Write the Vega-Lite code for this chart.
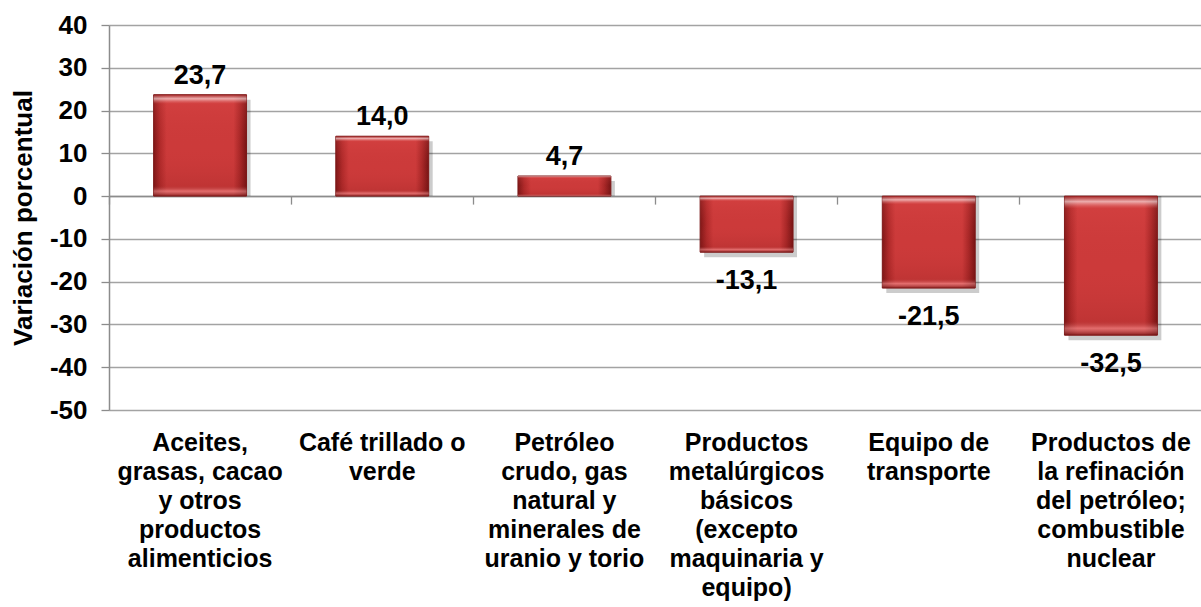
{
  "$schema": "https://vega.github.io/schema/vega-lite/v6.json",
  "autosize": "none",
  "padding": {"left": 109, "top": 25, "right": 0, "bottom": 197},
  "width": 1093,
  "height": 385,
  "background": "white",
  "config": {
    "view": {"stroke": null},
    "font": "Liberation Sans",
    "axis": {"labelFont": "Liberation Sans", "titleFont": "Liberation Sans"}
  },
  "data": {
    "values": [
      {"cat": "Aceites,|grasas, cacao|y otros|productos|alimenticios", "value": 23.7, "label": "23,7"},
      {"cat": "Café trillado o|verde", "value": 14.0, "label": "14,0"},
      {"cat": "Petróleo|crudo, gas|natural y|minerales de|uranio y torio", "value": 4.7, "label": "4,7"},
      {"cat": "Productos|metalúrgicos|básicos|(excepto|maquinaria y|equipo)", "value": -13.1, "label": "-13,1"},
      {"cat": "Equipo de|transporte", "value": -21.5, "label": "-21,5"},
      {"cat": "Productos de|la refinación|del petróleo;|combustible|nuclear", "value": -32.5, "label": "-32,5"}
    ]
  },
  "encoding": {
    "y": {
      "field": "value",
      "type": "quantitative",
      "scale": {"domain": [-50, 40], "nice": false, "zero": false},
      "axis": {
        "values": [-50, -40, -30, -20, -10, 0, 10, 20, 30, 40],
        "labelExpr": "toString(datum.value)",
        "title": "Variación porcentual",
        "titleFontSize": 26,
        "titleFontWeight": "bold",
        "titleColor": "black",
        "titlePadding": 13,
        "labelFontSize": 26,
        "labelFontWeight": "bold",
        "labelColor": "black",
        "labelPadding": 14,
        "grid": true,
        "gridColor": "#a3a3a3",
        "gridWidth": 1.3,
        "domainColor": "#8c8c8c",
        "domainWidth": 1.5,
        "tickColor": "#8c8c8c",
        "tickWidth": 1.3,
        "tickSize": 8
      }
    }
  },
  "layer": [
    {
      "mark": {"type": "bar", "width": {"band": 0.51}, "color": "#000000", "opacity": 0.2, "xOffset": 4, "yOffset": 5},
      "encoding": {
        "x": {
          "field": "cat",
          "type": "nominal",
          "sort": null,
          "scale": {"paddingInner": 0, "paddingOuter": 0},
          "axis": {
            "title": null,
            "orient": "bottom",
            "labelExpr": "split(datum.label, '|')",
            "labelAngle": 0,
            "labelFontSize": 25,
            "labelFontWeight": "bold",
            "labelColor": "black",
            "labelLineHeight": 29,
            "labelPadding": 20,
            "labelBaseline": "top",
            "labelOverlap": false,
            "ticks": false,
            "domain": false,
            "grid": false
          }
        },
        "y2": {"datum": 0}
      }
    },
    {
      "mark": {
        "type": "bar",
        "width": {"band": 0.51},
        "stroke": "#7a1616",
        "strokeWidth": 1,
        "color": {
          "gradient": "linear", "x1": 0, "y1": 0, "x2": 1, "y2": 0,
          "stops": [
            {"offset": 0, "color": "#7f1717"},
            {"offset": 0.07, "color": "#b02a2a"},
            {"offset": 0.14, "color": "#cc3a3a"},
            {"offset": 0.86, "color": "#cc3a3a"},
            {"offset": 0.93, "color": "#a82727"},
            {"offset": 1, "color": "#761414"}
          ]
        }
      },
      "encoding": {
        "x": {"field": "cat", "type": "nominal", "sort": null, "axis": null},
        "y2": {"datum": 0}
      }
    },
    {
      "mark": {
        "type": "bar",
        "width": {"band": 0.51},
        "color": {
          "gradient": "linear", "x1": 0, "y1": 0, "x2": 0, "y2": 1,
          "stops": [
            {"offset": 0, "color": "rgba(150,25,25,0.7)"},
            {"offset": 0.04, "color": "rgba(255,235,235,0.65)"},
            {"offset": 0.09, "color": "rgba(230,80,80,0.2)"},
            {"offset": 0.5, "color": "rgba(200,60,60,0)"},
            {"offset": 0.9, "color": "rgba(120,20,20,0.15)"},
            {"offset": 0.95, "color": "rgba(255,170,170,0.45)"},
            {"offset": 1, "color": "rgba(110,15,15,0.7)"}
          ]
        }
      },
      "encoding": {
        "x": {"field": "cat", "type": "nominal", "sort": null, "axis": null},
        "y2": {"datum": 0}
      }
    },
    {
      "transform": [{"filter": "datum.value >= 0"}],
      "mark": {"type": "text", "baseline": "bottom", "dy": -5, "fontSize": 27, "fontWeight": "bold", "color": "black", "font": "Liberation Sans"},
      "encoding": {
        "x": {
          "field": "cat",
          "type": "nominal",
          "sort": null,
          "axis": {
            "orient": "bottom",
            "offset": -213.9,
            "title": null,
            "labels": false,
            "grid": false,
            "domain": true,
            "domainColor": "#8c8c8c",
            "domainWidth": 1.5,
            "ticks": true,
            "bandPosition": 0,
            "tickColor": "#8c8c8c",
            "tickWidth": 1.3,
            "tickSize": 8
          }
        },
        "text": {"field": "label"}
      }
    },
    {
      "transform": [{"filter": "datum.value < 0"}],
      "mark": {"type": "text", "baseline": "top", "dy": 16, "fontSize": 27, "fontWeight": "bold", "color": "black", "font": "Liberation Sans"},
      "encoding": {
        "x": {"field": "cat", "type": "nominal", "sort": null, "axis": null},
        "text": {"field": "label"}
      }
    }
  ],
  "resolve": {"axis": {"x": "independent"}}
}
